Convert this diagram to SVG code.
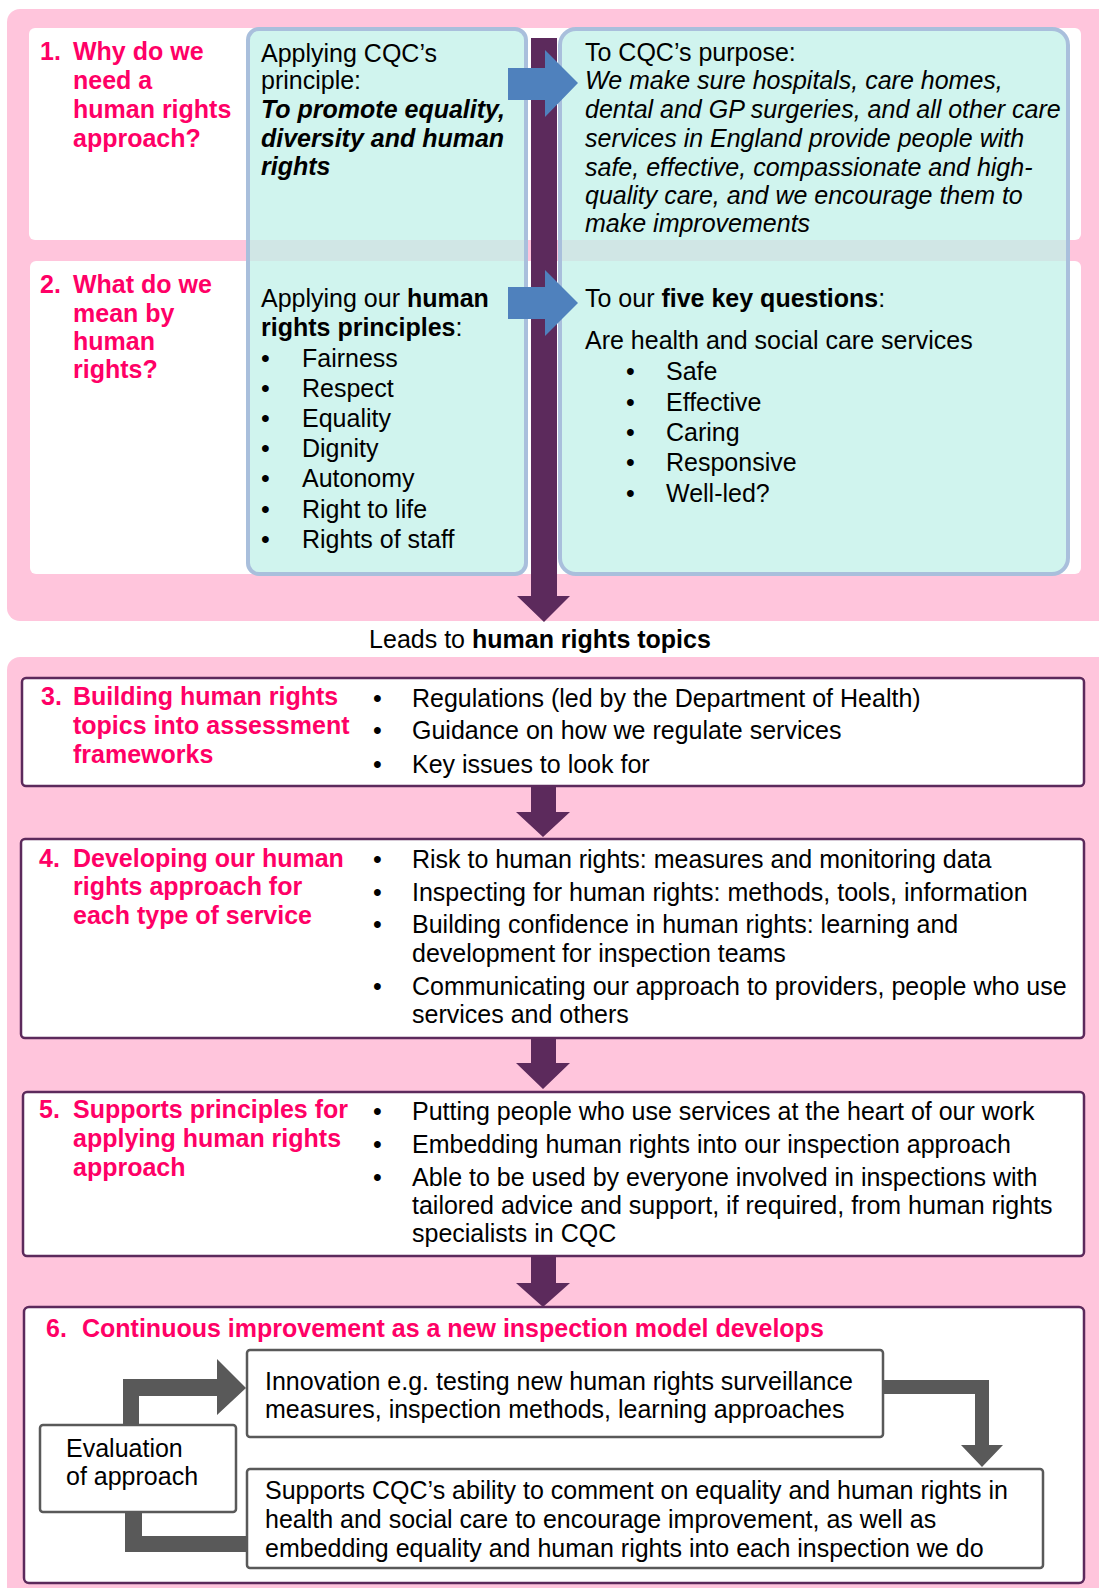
<svg xmlns="http://www.w3.org/2000/svg" width="1099" height="1588" viewBox="0 0 1099 1588">
  <style>
    text { font-family: "Liberation Sans", Arial, sans-serif; font-size: 25px; fill: #000; }
    .h { font-weight: bold; fill: #ff0066; }
    .b { font-weight: bold; }
    .i { font-style: italic; }
    .bi { font-weight: bold; font-style: italic; }
    .panel { fill: #ffc5dc; }
    .card { fill: #ffffff; }
    .teal { fill: rgb(192,240,232); fill-opacity: 0.75; stroke: #a9bfdc; stroke-width: 4; }
    .stage { fill: #ffffff; stroke: #5c2a5c; stroke-width: 2.5; }
    .sub { fill: #ffffff; stroke: #595959; stroke-width: 2.5; }
    .flow { fill: #5c2a5c; }
    .blue { fill: #4f81bd; }
    .grey { fill: #595959; }
  </style>

  <!-- background panels -->
  <g id="panels">
    <rect class="panel" x="7" y="9" width="1110" height="612" rx="13"/>
    <rect class="panel" x="7" y="657" width="1110" height="960" rx="13"/>
  </g>

  <!-- upper section: questions 1 and 2 -->
  <g id="q1">
    <rect class="card" x="29" y="28" width="1052" height="212" rx="6"/>
    <text class="h" x="40" y="60">1.</text>
    <text class="h" x="73" y="60">Why do we</text>
    <text class="h" x="73" y="89">need a</text>
    <text class="h" x="73" y="118">human rights</text>
    <text class="h" x="73" y="147">approach?</text>
  </g>
  <g id="q2">
    <rect class="card" x="30" y="261" width="1051" height="313" rx="6"/>
    <text class="h" x="40" y="293">2.</text>
    <text class="h" x="73" y="293">What do we</text>
    <text class="h" x="73" y="322">mean by</text>
    <text class="h" x="73" y="350">human</text>
    <text class="h" x="73" y="378">rights?</text>
  </g>

  <g id="principles">
    <rect class="teal" x="248" y="29" width="278" height="545" rx="11"/>
    <text x="261" y="62">Applying CQC’s</text>
    <text x="261" y="89">principle:</text>
    <text class="bi" x="261" y="118">To promote equality,</text>
    <text class="bi" x="261" y="147">diversity and human</text>
    <text class="bi" x="261" y="175">rights</text>
    <text x="261" y="307">Applying our <tspan class="b">human</tspan></text>
    <text x="261" y="336"><tspan class="b">rights principles</tspan>:</text>
    <g>
      <text x="261" y="367">•</text><text x="302" y="367">Fairness</text>
      <text x="261" y="397">•</text><text x="302" y="397">Respect</text>
      <text x="261" y="427">•</text><text x="302" y="427">Equality</text>
      <text x="261" y="457">•</text><text x="302" y="457">Dignity</text>
      <text x="261" y="487">•</text><text x="302" y="487">Autonomy</text>
      <text x="261" y="518">•</text><text x="302" y="518">Right to life</text>
      <text x="261" y="548">•</text><text x="302" y="548">Rights of staff</text>
    </g>
  </g>

  <g id="purpose">
    <rect class="teal" x="560" y="29" width="508" height="545" rx="16"/>
    <text x="585" y="61">To CQC’s purpose:</text>
    <text class="i" x="585" y="89">We make sure hospitals, care homes,</text>
    <text class="i" x="585" y="118">dental and GP surgeries, and all other care</text>
    <text class="i" x="585" y="147">services in England provide people with</text>
    <text class="i" x="585" y="176">safe, effective, compassionate and high-</text>
    <text class="i" x="585" y="204">quality care, and we encourage them to</text>
    <text class="i" x="585" y="232">make improvements</text>
    <text x="585" y="307">To our <tspan class="b">five key questions</tspan>:</text>
    <text x="585" y="349">Are health and social care services</text>
    <g>
      <text x="626" y="380">•</text><text x="666" y="380">Safe</text>
      <text x="626" y="411">•</text><text x="666" y="411">Effective</text>
      <text x="626" y="441">•</text><text x="666" y="441">Caring</text>
      <text x="626" y="471">•</text><text x="666" y="471">Responsive</text>
      <text x="626" y="502">•</text><text x="666" y="502">Well-led?</text>
    </g>
  </g>

  <text x="540" y="648" text-anchor="middle">Leads to <tspan class="b">human rights topics</tspan></text>

  <!-- lower section: stages 3 to 6 -->
  <g id="stage3">
    <rect class="stage" x="22" y="678" width="1062" height="108" rx="4"/>
    <text class="h" x="41" y="705">3.</text>
    <text class="h" x="73" y="705">Building human rights</text>
    <text class="h" x="73" y="734">topics into assessment</text>
    <text class="h" x="73" y="763">frameworks</text>
    <text x="373" y="707">•</text><text x="412" y="707">Regulations (led by the Department of Health)</text>
    <text x="373" y="739">•</text><text x="412" y="739">Guidance on how we regulate services</text>
    <text x="373" y="773">•</text><text x="412" y="773">Key issues to look for</text>
  </g>

  <g id="stage4">
    <rect class="stage" x="21" y="839" width="1063" height="199" rx="4"/>
    <text class="h" x="39" y="867">4.</text>
    <text class="h" x="73" y="867">Developing our human</text>
    <text class="h" x="73" y="895">rights approach for</text>
    <text class="h" x="73" y="924">each type of service</text>
    <text x="373" y="868">•</text><text x="412" y="868">Risk to human rights: measures and monitoring data</text>
    <text x="373" y="901">•</text><text x="412" y="901">Inspecting for human rights: methods, tools, information</text>
    <text x="373" y="933">•</text><text x="412" y="933">Building confidence in human rights: learning and</text>
    <text x="412" y="962">development for inspection teams</text>
    <text x="373" y="995">•</text><text x="412" y="995">Communicating our approach to providers, people who use</text>
    <text x="412" y="1023">services and others</text>
  </g>

  <g id="stage5">
    <rect class="stage" x="23" y="1092" width="1061" height="164" rx="4"/>
    <text class="h" x="39" y="1118">5.</text>
    <text class="h" x="73" y="1118">Supports principles for</text>
    <text class="h" x="73" y="1147">applying human rights</text>
    <text class="h" x="73" y="1176">approach</text>
    <text x="373" y="1120">•</text><text x="412" y="1120">Putting people who use services at the heart of our work</text>
    <text x="373" y="1153">•</text><text x="412" y="1153">Embedding human rights into our inspection approach</text>
    <text x="373" y="1186">•</text><text x="412" y="1186">Able to be used by everyone involved in inspections with</text>
    <text x="412" y="1214">tailored advice and support, if required, from human rights</text>
    <text x="412" y="1242">specialists in CQC</text>
  </g>

  <g id="stage6">
    <rect class="stage" x="24" y="1307" width="1060" height="276" rx="5"/>
    <text class="h" x="46" y="1337">6.</text>
    <text class="h" x="82" y="1337">Continuous improvement as a new inspection model develops</text>
  </g>

  <g id="innovation">
    <rect class="sub" x="247" y="1350" width="636" height="87" rx="3"/>
    <text x="265" y="1390">Innovation e.g. testing new human rights surveillance</text>
    <text x="265" y="1418">measures, inspection methods, learning approaches</text>
  </g>

  <g id="comment">
    <rect class="sub" x="247" y="1469" width="796" height="99" rx="3"/>
    <text x="265" y="1499">Supports CQC’s ability to comment on equality and human rights in</text>
    <text x="265" y="1528">health and social care to encourage improvement, as well as</text>
    <text x="265" y="1557">embedding equality and human rights into each inspection we do</text>
  </g>

  <g id="evaluation">
    <rect class="sub" x="40" y="1425" width="196" height="87" rx="3"/>
    <text x="66" y="1457">Evaluation</text>
    <text x="66" y="1485">of approach</text>
  </g>

  <!-- connectors, drawn over the boxes -->
  <g id="connectors">
    <!-- main downward flow through the upper section -->
    <polygon class="flow" points="531,38 557,38 557,596 570,596 544,622 517,596 531,596"/>
    <!-- principle to purpose -->
    <polygon class="blue" points="508,68 545,68 545,50 578,83 545,117 545,100 508,100"/>
    <polygon class="blue" points="508,287 545,287 545,270 578,303 545,336 545,319 508,319"/>
    <!-- stage to stage -->
    <polygon class="flow" points="531,786 556,786 556,812 570,812 543,837 516,812 531,812"/>
    <polygon class="flow" points="531,1039 556,1039 556,1063 570,1063 543,1089 516,1063 531,1063"/>
    <polygon class="flow" points="531,1256 556,1256 556,1283 570,1283 543,1307 516,1283 531,1283"/>
    <!-- improvement cycle -->
    <polygon class="grey" points="123,1425 123,1379 217,1379 217,1359 246,1388 217,1415 217,1396 139,1396 139,1425"/>
    <polygon class="grey" points="883,1380 989,1380 989,1445 1003,1445 982,1467 961,1445 975,1445 975,1394 883,1394"/>
    <polygon class="grey" points="125,1512 142,1512 142,1536 248,1536 248,1552 125,1552"/>
  </g>
</svg>
